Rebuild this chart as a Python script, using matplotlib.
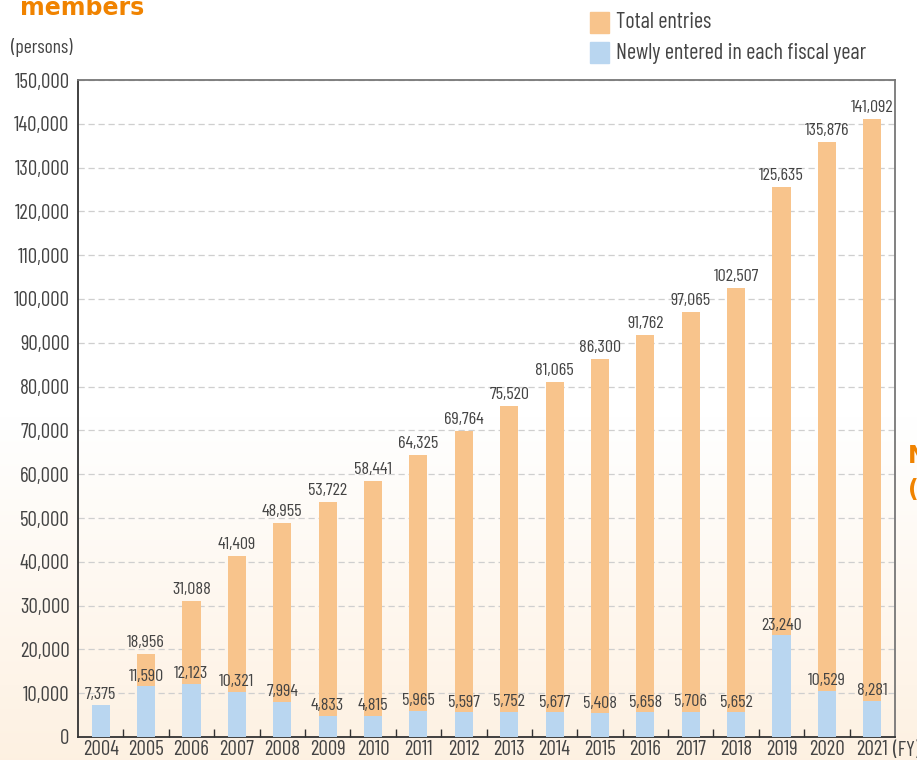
import numpy as np
import matplotlib
matplotlib.use("Agg")
import matplotlib.pyplot as plt
from matplotlib.patches import Rectangle
from matplotlib import font_manager

# pick a condensed face if one is installed
installed = set(f.name for f in font_manager.fontManager.ttflist)
prefs = ['Barlow Condensed', 'Roboto Condensed', 'PT Sans Narrow', 'Archivo Narrow',
         'Liberation Sans Narrow', 'DejaVu Sans']
narrow = [p for p in prefs if p in installed][0]
plt.rcParams['font.family'] = [narrow, 'DejaVu Sans']

years = ["2004", "2005", "2006", "2007", "2008", "2009", "2010", "2011", "2012",
         "2013", "2014", "2015", "2016", "2017", "2018", "2019", "2020", "2021"]
total_entries = [7375, 18956, 31088, 41409, 48955, 53722, 58441, 64325, 69764,
                 75520, 81065, 86300, 91762, 97065, 102507, 125635, 135876, 141092]
new_entries = [7375, 11590, 12123, 10321, 7994, 4833, 4815, 5965, 5597,
               5752, 5677, 5408, 5658, 5706, 5652, 23240, 10529, 8281]

orange = "#f8c48c"
blue = "#b9d6f0"
txt = "#444444"

fig = plt.figure(figsize=(9.17, 7.6), dpi=100)

# background gradient (white at top -> cream at bottom)
bg = fig.add_axes([0, 0, 1, 1], zorder=-10)
grad = np.linspace(0, 1, 256).reshape(-1, 1)
top_c = np.array([1.0, 1.0, 1.0])
bot_c = np.array([0.995, 0.945, 0.885])
img = top_c + (bot_c - top_c) * np.clip((grad - 0.55) / 0.45, 0, 1)[:, :, None]
bg.imshow(img, aspect='auto', extent=[0, 1, 0, 1], origin='upper')
bg.axis('off')

ax = fig.add_axes([78 / 917, 23 / 760, 817 / 917, 657 / 760])
ax.patch.set_alpha(0)
x = np.arange(len(years))
w = 0.4
ax.bar(x, total_entries, width=w, color=orange, zorder=2)
ax.bar(x, new_entries, width=w, color=blue, zorder=3)

for i in range(len(years)):
    if total_entries[i] != new_entries[i]:
        ax.text(x[i], total_entries[i] + 900, f"{total_entries[i]:,}", ha='center',
                va='bottom', fontsize=13, color=txt, zorder=4)
    ax.text(x[i], new_entries[i] + 600, f"{new_entries[i]:,}", ha='center',
            va='bottom', fontsize=13, color=txt, zorder=4)

ax.set_xlim(-0.5, len(years) - 0.5)
ax.set_ylim(0, 150000)
ax.set_yticks(np.arange(0, 150001, 10000))
ax.set_yticklabels([f"{v:,}" for v in range(0, 150001, 10000)], fontsize=15, color=txt)
ax.yaxis.grid(True, linestyle=(0, (5, 3)), color="#cfcfcf", linewidth=0.9, zorder=0)
ax.set_axisbelow(True)
ax.tick_params(axis='y', length=0, pad=6)

ax.set_xticks(x)
ax.set_xticklabels(years, fontsize=15, color=txt)
ax.tick_params(axis='x', length=0, pad=2)
ax.set_xticks(x[:-1] + 0.5, minor=True)
ax.tick_params(axis='x', which='minor', direction='in', length=6, color="#333333", width=1)

for s in ['left', 'bottom']:
    ax.spines[s].set_color("#333333")
    ax.spines[s].set_linewidth(1.3)
for s in ['top', 'right']:
    ax.spines[s].set_color("#777777")
    ax.spines[s].set_linewidth(1.3)

fig.text(0.012, 0.937, "(persons)", fontsize=14, color=txt, va='center')
fig.text(893 / 917, 0.012, "(FY)", fontsize=15, color=txt, va='center', ha='left')
fig.text(0.022, 0.99, "members", fontsize=17, fontweight='bold', color="#f08300",
         va='center', family=['DejaVu Sans'])
fig.text(0.99, 0.40, "N", fontsize=17, fontweight='bold', color="#f08300",
         va='center', family=['DejaVu Sans'])
fig.text(0.99, 0.355, "(", fontsize=17, fontweight='bold', color="#f08300",
         va='center', family=['DejaVu Sans'])

# legend
fig.patches.append(Rectangle((590 / 917, 1 - 33 / 760), 19 / 917, 21 / 760,
                             transform=fig.transFigure, color=orange))
fig.patches.append(Rectangle((590 / 917, 1 - 63 / 760), 19 / 917, 21 / 760,
                             transform=fig.transFigure, color=blue))
fig.text(616 / 917, 1 - 22 / 760, "Total entries", fontsize=16, color=txt, va='center')
fig.text(616 / 917, 1 - 53 / 760, "Newly entered in each fiscal year", fontsize=16,
         color=txt, va='center')

fig.savefig("out.png", dpi=100)
